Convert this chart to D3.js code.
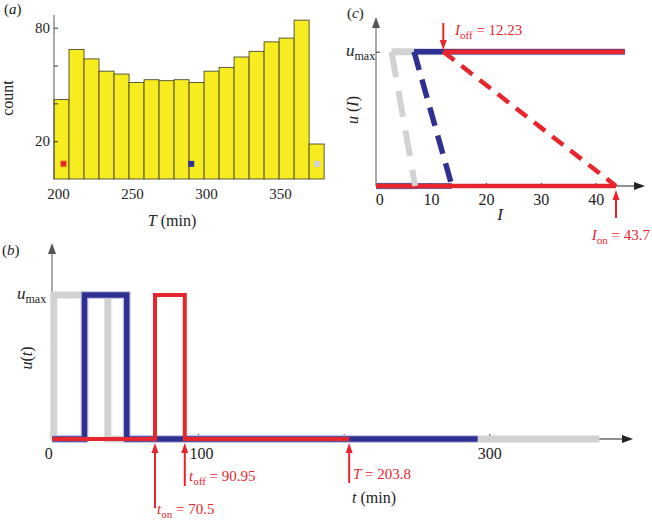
<!DOCTYPE html>
<html><head><meta charset="utf-8">
<script src="https://cdn.jsdelivr.net/npm/d3@7"></script>
<style>body{margin:0;background:#fff} text{font-family:"Liberation Serif","DejaVu Serif","Times New Roman",serif}</style>
</head><body><svg id="c" width="652" height="523"></svg>
<script>
// ---------- data ----------
const histCounts = [42, 68.5, 63.5, 57, 55.5, 51, 52.5, 52, 52.5, 51, 57, 59, 64.5, 67.5, 72.5, 74.5, 84, 18.5];
const histBinStart = 197.3, histBinWidth = 10.14;
const histXTicks = [200, 250, 300, 350];
const histYTicks = [20, 40, 60, 80];
const histYLabels = [20, 80];
const markerT = [203.8, 290, 375];
const markerCount = 8;

const series = ["gray", "blue", "red"];
const colors = { gray: "#d2d2d2", blue: "#2e3192", red: "#e8252c" };
// panel (b): pulse on/off times and end of each trace (min)
const tOn  = [1, 22.1, 70.5];
const tOff = [38.1, 51.1, 90.95];
const tEnd = [375.6, 292, 203.8];
const timeTicks = [0, 100, 200, 300];
const timeLabels = ["0", "100", "", "300"];
// panel (c): thresholds
const iOff = [2.8, 6.9, 12.23];
const iOn  = [7.1, 13.8, 43.7];
const iMax = 45.3;
const iTicks = [0, 10, 20, 30, 40];

// ---------- setup ----------
const svg = d3.select("#c");
const FONT = '"Liberation Serif","DejaVu Serif","Times New Roman",serif';
const RED = colors.red;
const wB = { gray: 7, blue: 5.5, red: 4 };
const wC = { gray: 7, blue: 5.5, red: 4.5 };
const dashC = { gray: "26,14", blue: "19,10", red: "14,9" };
const dwC = { gray: 6, blue: 5.5, red: 4.5 };

function rich(g, x, y, parts, opt = {}) {
  const t = g.append("text").attr("x", x).attr("y", y)
    .attr("fill", opt.fill || "#222").attr("font-size", opt.size || 16)
    .attr("font-family", FONT)
    .attr("text-anchor", opt.anchor || "start");
  if (opt.transform) t.attr("transform", opt.transform);
  let shifted = 0;
  parts.forEach(p => {
    const s = t.append("tspan").text(p.t);
    if (p.i) s.attr("font-style", "italic");
    if (p.size) s.attr("font-size", p.size);
    const want = p.sub ? 4 : 0;
    if (want !== shifted) { s.attr("dy", want - shifted); shifted = want; }
  });
  return t;
}
function arrow(g, x1, y1, x2, y2, color, w, hl, hw) {
  const a = Math.atan2(y2 - y1, x2 - x1);
  const bx = x2 - hl * Math.cos(a), by = y2 - hl * Math.sin(a);
  g.append("line").attr("x1", x1).attr("y1", y1).attr("x2", bx).attr("y2", by)
    .attr("stroke", color).attr("stroke-width", w);
  const px = -Math.sin(a) * hw / 2, py = Math.cos(a) * hw / 2;
  g.append("path").attr("d", `M${x2},${y2}L${bx + px},${by + py}L${bx - px},${by - py}Z`).attr("fill", color);
}
function styleTicks(ax, size) {
  ax.select(".domain").remove();
  ax.selectAll("line").attr("stroke", "#333");
  ax.selectAll("text").attr("font-size", size).attr("fill", "#222").attr("font-family", FONT);
}

// ---------- panel (a) ----------
const gA = svg.append("g");
const xA = d3.scaleLinear().domain([200, 350]).range([58, 280]);
const yA = d3.scaleLinear().domain([0, 80]).range([179, 27.7]);
gA.selectAll("rect.bar").data(histCounts).join("rect").attr("class", "bar")
  .attr("x", (d, i) => xA(histBinStart + i * histBinWidth))
  .attr("width", xA(histBinStart + histBinWidth) - xA(histBinStart))
  .attr("y", d => yA(d)).attr("height", d => yA(0) - yA(d))
  .attr("fill", "#f6ec1f").attr("stroke", "#4d4a30").attr("stroke-width", 0.9);
gA.append("line").attr("x1", 54).attr("x2", 54).attr("y1", 179).attr("y2", 15).attr("stroke", "#555").attr("stroke-width", 1);
const axA = gA.append("g").attr("transform", "translate(54,0)")
  .call(d3.axisLeft(yA).tickValues(histYTicks).tickSize(-4).tickPadding(4)
    .tickFormat(d => histYLabels.includes(d) ? d : ""));
styleTicks(axA, 15);
const axAx = gA.append("g").attr("transform", "translate(0,179)")
  .call(d3.axisBottom(xA).tickValues(histXTicks).tickSize(0).tickPadding(9));
styleTicks(axAx, 15);
gA.selectAll("rect.mk").data(markerT).join("rect").attr("class", "mk")
  .attr("x", d => xA(d) - 3).attr("y", yA(markerCount) - 3).attr("width", 6).attr("height", 6)
  .attr("fill", (d, i) => colors[series[2 - i]])
  .attr("stroke", (d, i) => i === 0 ? "#f5a030" : "none").attr("stroke-width", 0.8);
rich(gA, 4, 14, [{ t: "(" }, { t: "a", i: 1 }, { t: ")" }], { size: 15 });
rich(gA, 13, 98, [{ t: "count" }], { size: 16, anchor: "middle", transform: "rotate(-90,13,98)" });
rich(gA, 172, 226, [{ t: "T", i: 1 }, { t: " (min)" }], { size: 16, anchor: "middle" });

// ---------- panel (b) ----------
const gB = svg.append("g");
const xB = d3.scaleLinear().domain([0, 300]).range([52.3, 489.3]);
const yB = d3.scaleLinear().domain([0, 1]).range([439, 295]);
arrow(gB, 52, 439, 633, 439, "#222", 1.2, 11, 8);
arrow(gB, 52, 439, 52, 243, "#555", 1, 11, 8);
const axB = gB.append("g").attr("transform", "translate(0,439)")
  .call(d3.axisBottom(xB).tickValues(timeTicks).tickSize(-5).tickPadding(9)
    .tickFormat((d, i) => timeLabels[i]));
styleTicks(axB, 16);
axB.selectAll("text").attr("dx", d => d === 0 ? -4 : d === 100 ? 3 : 0);
const ayB = gB.append("g").attr("transform", "translate(52,0)")
  .call(d3.axisLeft(yB).tickValues([0, 1]).tickSize(-5).tickFormat(""));
styleTicks(ayB, 16);
const lineB = d3.line().x(d => xB(d[0])).y(d => yB(d[1]));
series.forEach((s, k) => {
  const start = k === 0 ? tOn[k] : 0;
  const pts = [[start, 0], [tOn[k], 0], [tOn[k], 1], [tOff[k], 1], [tOff[k], 0], [tEnd[k], 0]];
  if (k === 1) {
    gB.append("path").attr("d", lineB(pts)).attr("fill", "none")
      .attr("stroke", "#c9c6e4").attr("stroke-width", wB[s] + 2.5);
  }
  gB.append("path").attr("d", lineB(pts)).attr("fill", "none")
    .attr("stroke", colors[s]).attr("stroke-width", wB[s]).attr("stroke-linejoin", "miter");
});
rich(gB, 2, 255, [{ t: "(" }, { t: "b", i: 1 }, { t: ")" }], { size: 15 });
rich(gB, 17, 299, [{ t: "u", i: 1 }, { t: "max", sub: 1, size: 12 }], { size: 17 });
rich(gB, 32, 358, [{ t: "u", i: 1 }, { t: "(" }, { t: "t", i: 1 }, { t: ")" }], { size: 16, anchor: "middle", transform: "rotate(-90,32,358)" });
rich(gB, 374, 503, [{ t: "t", i: 1 }, { t: " (min)" }], { size: 16, anchor: "middle" });
arrow(gB, xB(70.5), 508, xB(70.5), 443, RED, 2, 10, 7);
arrow(gB, xB(90.95), 486, xB(90.95), 443, RED, 2, 10, 7);
arrow(gB, xB(203.8), 483, xB(203.8), 443, RED, 2, 10, 7);
rich(gB, 189, 481, [{ t: "t", i: 1 }, { t: "off", sub: 1, size: 11 }, { t: " = 90.95" }], { size: 15, fill: RED });
rich(gB, 157, 514, [{ t: "t", i: 1 }, { t: "on", sub: 1, size: 11 }, { t: " = 70.5" }], { size: 15, fill: RED });
rich(gB, 353, 479, [{ t: "T", i: 1 }, { t: " = 203.8" }], { size: 15, fill: RED });

// ---------- panel (c) ----------
const gC = svg.append("g");
const xC = d3.scaleLinear().domain([0, 40]).range([376.2, 595.7]);
const yC = d3.scaleLinear().domain([0, 1]).range([186, 51.7]);
arrow(gC, 376, 186, 645, 186, "#222", 1, 11, 8);
arrow(gC, 376, 186, 376, 17, "#555", 1, 11, 8);
const axC = gC.append("g").attr("transform", "translate(0,186)")
  .call(d3.axisBottom(xC).tickValues(iTicks).tickSize(-3).tickPadding(8));
styleTicks(axC, 16);
axC.selectAll("text").attr("dx", d => d === 0 ? 3 : 0);
const ayC = gC.append("g").attr("transform", "translate(376,0)")
  .call(d3.axisLeft(yC).tickValues([1]).tickSize(-4).tickFormat(""));
styleTicks(ayC, 16);
const lineC = d3.line().x(d => xC(d[0])).y(d => yC(d[1]));
series.forEach((s, k) => {
  gC.append("path").attr("d", lineC([[iOff[k], 1], [iMax, 1]])).attr("fill", "none")
    .attr("stroke", colors[s]).attr("stroke-width", wC[s]);
  gC.append("path").attr("d", lineC([[0, 0], [iOn[k], 0]])).attr("fill", "none")
    .attr("stroke", colors[s]).attr("stroke-width", wC[s]);
});
series.forEach((s, k) => {
  gC.append("path").attr("d", lineC([[iOff[k], 1], [iOn[k], 0]])).attr("fill", "none")
    .attr("stroke", colors[s]).attr("stroke-width", dwC[s]).attr("stroke-dasharray", dashC[s]);
});
rich(gC, 347, 18, [{ t: "(" }, { t: "c", i: 1 }, { t: ")" }], { size: 15 });
rich(gC, 346, 56, [{ t: "u", i: 1 }, { t: "max", sub: 1, size: 12 }], { size: 17 });
rich(gC, 358, 110, [{ t: "u", i: 1 }, { t: " (" }, { t: "I", i: 1 }, { t: ")" }], { size: 16, anchor: "middle", transform: "rotate(-90,358,110)" });
rich(gC, 500, 220, [{ t: "I", i: 1 }], { size: 17, anchor: "middle" });
arrow(gC, xC(12.23), 23, xC(12.23), 50, RED, 2, 10, 7);
arrow(gC, xC(43.7), 218, xC(43.7), 190, RED, 2, 10, 7);
rich(gC, 455, 35, [{ t: "I", i: 1 }, { t: "off", sub: 1, size: 11 }, { t: " = 12.23" }], { size: 15, fill: RED });
rich(gC, 650, 240, [{ t: "I", i: 1 }, { t: "on", sub: 1, size: 11 }, { t: " = 43.7" }], { size: 15, fill: RED, anchor: "end" });
</script></body></html>
